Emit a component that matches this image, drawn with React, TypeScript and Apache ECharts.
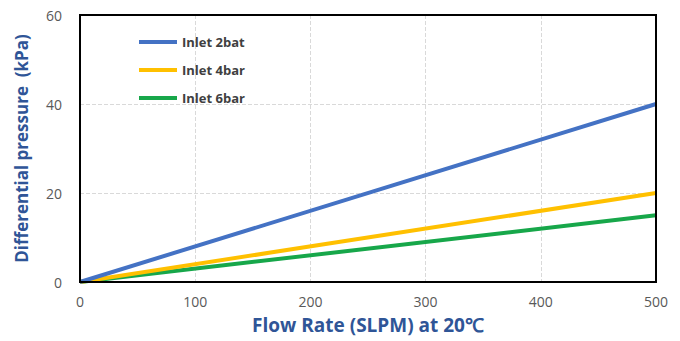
import React, { useEffect, useRef } from "react";
import * as echarts from "echarts";

const flowRates = [0, 500];
const inlet2bar = [0, 40];
const inlet4bar = [0, 20];
const inlet6bar = [0, 15];
const seriesNames = ["Inlet 2bat", "Inlet 4bar", "Inlet 6bar"];
const seriesColors = ["#4472C4", "#FFC000", "#17A74A"];

export default function App() {
  const ref = useRef<HTMLDivElement>(null);
  useEffect(() => {
    if (!ref.current) return;
    const chart = echarts.init(ref.current, null, { renderer: "svg" });
    const values = [inlet2bar, inlet4bar, inlet6bar];
    const split = {
      show: true,
      showMinLine: false,
      showMaxLine: false,
      lineStyle: { color: "#D9D9D9", type: "dashed", width: 1 },
    };
    chart.setOption({
      animation: false,
      backgroundColor: "#fff",
      textStyle: { fontFamily: "Open Sans" },
      grid: {
        left: 80,
        right: 24,
        top: 15,
        bottom: 59,
        show: true,
        borderColor: "#000",
        borderWidth: 2,
        containLabel: false,
        z: 10,
      },
      legend: {
        orient: "vertical",
        left: 139,
        top: 28,
        padding: 0,
        itemGap: 0,
        itemWidth: 38,
        itemHeight: 4,
        icon: "rect",
        data: seriesNames,
        textStyle: {
          color: "#404040",
          fontWeight: "bold",
          fontSize: 13,
          lineHeight: 28,
          fontFamily: "Open Sans",
        },
      },
      xAxis: {
        type: "value",
        min: 0,
        max: 500,
        interval: 100,
        name: "Flow Rate (SLPM) at 20℃",
        nameLocation: "middle",
        nameGap: 33,
        nameTextStyle: {
          color: "#2F5597",
          fontSize: 19,
          fontWeight: "bold",
          fontFamily: "Open Sans",
        },
        axisLine: { show: false },
        axisTick: { show: false },
        axisLabel: { color: "#595959", fontSize: 14, margin: 12 },
        splitLine: split,
      },
      yAxis: {
        type: "value",
        min: 0,
        max: 60,
        interval: 20,
        name: "Differential pressure  (kPa)",
        nameLocation: "middle",
        nameGap: 50,
        nameTextStyle: {
          color: "#2F5597",
          fontSize: 17,
          fontWeight: "bold",
          fontFamily: "Open Sans",
        },
        axisLine: { show: false },
        axisTick: { show: false },
        axisLabel: { color: "#595959", fontSize: 14, margin: 18 },
        splitLine: split,
      },
      series: seriesNames.map((name, i) => ({
        name,
        type: "line",
        data: flowRates.map((x, j) => [x, values[i][j]]),
        showSymbol: false,
        symbol: "none",
        lineStyle: { color: seriesColors[i], width: 4 },
        itemStyle: { color: seriesColors[i] },
        z: 3 - i,
      })),
    });
    return () => chart.dispose();
  }, []);
  return (
    <div
      ref={ref}
      style={{ position: "fixed", left: 0, top: 0, width: 680, height: 341 }}
    />
  );
}
